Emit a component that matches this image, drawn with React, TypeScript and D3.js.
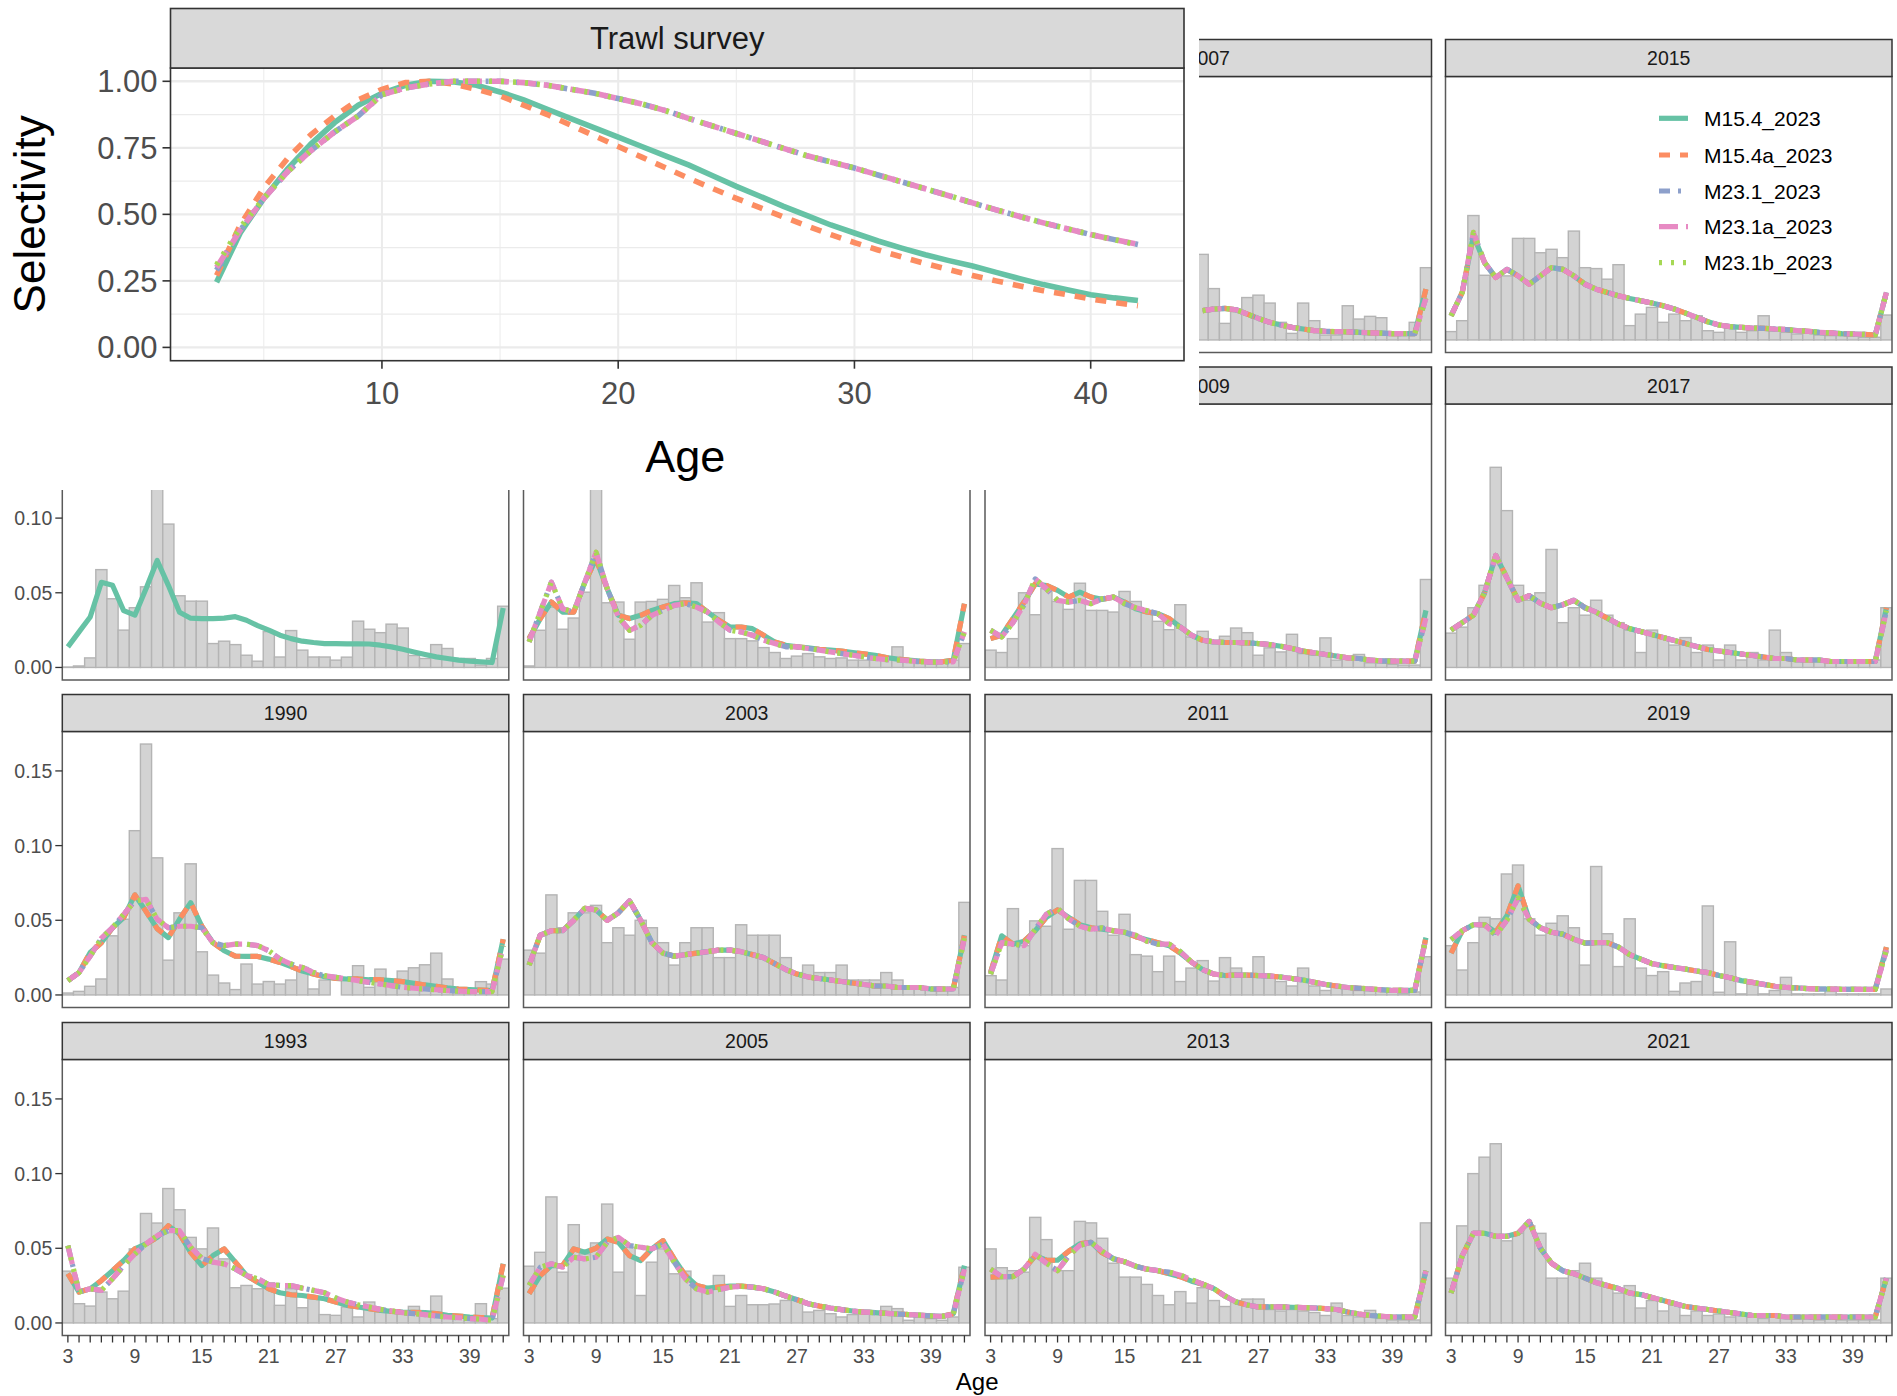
import React from "react";
import * as d3 from "d3";

// ---------------- categories ----------------
const AGES = d3.range(3, 43);
const SERIES = ["M15.4_2023", "M15.4a_2023", "M23.1_2023", "M23.1a_2023", "M23.1b_2023"];
const SERIES_COLORS = ["#66C2A5", "#FC8D62", "#8DA0CB", "#E78AC3", "#A6D854"];
const SERIES_DASH = ["none", "11,10", "11,8,3,8", "19,8", "3,9"];
// which fitted array each model uses (A = M15.4 family, B = M23.1 family)
const SERIES_SRC = ["A", "A", "B", "B", "B"];

// facet order (column-wise, 4 rows)
const YEARS = ["1984", "1987", "1990", "1993", "1999", "2001", "2003", "2005", "2007", "2009", "2011", "2013", "2015", "2017", "2019", "2021"];

// ---------------- selectivity (inset) ----------------
const SEL_M15_4 = [0.245, 0.43, 0.56, 0.67, 0.765, 0.845, 0.91, 0.955, 0.985, 1.0, 0.998, 0.985, 0.96, 0.93, 0.895, 0.86, 0.825, 0.79, 0.755, 0.72, 0.685, 0.645, 0.605, 0.568, 0.53, 0.495, 0.46, 0.43, 0.4, 0.373, 0.348, 0.326, 0.306, 0.282, 0.258, 0.236, 0.217, 0.198, 0.186, 0.176];
const SEL_M15_4a = [0.27, 0.46, 0.6, 0.71, 0.8, 0.87, 0.93, 0.97, 0.995, 1.0, 0.99, 0.97, 0.945, 0.91, 0.875, 0.835, 0.795, 0.755, 0.715, 0.675, 0.635, 0.597, 0.56, 0.525, 0.49, 0.456, 0.424, 0.394, 0.366, 0.34, 0.315, 0.292, 0.27, 0.25, 0.231, 0.213, 0.198, 0.182, 0.169, 0.157];
const SEL_M23_1 = [0.29, 0.44, 0.56, 0.66, 0.74, 0.81, 0.87, 0.95, 0.975, 0.99, 1.0, 1.0, 1.0, 0.995, 0.985, 0.97, 0.955, 0.935, 0.915, 0.89, 0.86, 0.832, 0.804, 0.776, 0.748, 0.72, 0.697, 0.674, 0.648, 0.622, 0.596, 0.57, 0.543, 0.517, 0.492, 0.468, 0.446, 0.424, 0.405, 0.387];
const SEL_M23_1a = [0.3, 0.44, 0.56, 0.66, 0.74, 0.81, 0.87, 0.95, 0.975, 0.99, 1.0, 1.0, 1.0, 0.995, 0.985, 0.97, 0.955, 0.935, 0.915, 0.89, 0.86, 0.832, 0.804, 0.776, 0.748, 0.72, 0.697, 0.674, 0.648, 0.622, 0.596, 0.57, 0.543, 0.517, 0.492, 0.468, 0.446, 0.424, 0.405, 0.387];
const SEL_M23_1b = [0.31, 0.45, 0.56, 0.66, 0.74, 0.81, 0.87, 0.95, 0.975, 0.99, 1.0, 1.0, 1.0, 0.995, 0.985, 0.97, 0.955, 0.935, 0.915, 0.89, 0.86, 0.832, 0.804, 0.776, 0.748, 0.72, 0.697, 0.674, 0.648, 0.622, 0.596, 0.57, 0.543, 0.517, 0.492, 0.468, 0.446, 0.424, 0.405, 0.385];
const SEL_Y_TICKS = [0, 0.25, 0.5, 0.75, 1.0];
const SEL_X_TICKS = [10, 20, 30, 40];

// ---------------- age compositions: observed (bars) and fitted ----------------
const obs_1987 = [0.0003, 0.001, 0.0064, 0.0655, 0.046, 0.025, 0.04, 0.054, 0.13, 0.096, 0.048, 0.0444, 0.0444, 0.016, 0.0176, 0.0153, 0.0082, 0.0042, 0.024, 0.007, 0.0247, 0.0116, 0.007, 0.007, 0.0049, 0.0069, 0.031, 0.0256, 0.0233, 0.029, 0.0264, 0.008, 0.006, 0.0153, 0.0127, 0.006, 0.006, 0.0016, 0.006, 0.041];
const fitA_1987 = [0.0138, 0.0238, 0.0338, 0.057, 0.055, 0.038, 0.035, 0.0527, 0.0716, 0.055, 0.037, 0.033, 0.0327, 0.0327, 0.033, 0.034, 0.0316, 0.028, 0.025, 0.0216, 0.0193, 0.0176, 0.0167, 0.016, 0.016, 0.0158, 0.0158, 0.0157, 0.0149, 0.0138, 0.0122, 0.0104, 0.0087, 0.0071, 0.006, 0.0049, 0.0042, 0.0038, 0.0033, 0.0398];

const obs_1990 = [0.0013, 0.0024, 0.0058, 0.0107, 0.0396, 0.0507, 0.11, 0.168, 0.0918, 0.0233, 0.055, 0.0878, 0.0289, 0.0133, 0.008, 0.0036, 0.0207, 0.0073, 0.009, 0.0073, 0.01, 0.0184, 0.004, 0.01, 0, 0.01, 0.0196, 0.0051, 0.0173, 0.0073, 0.016, 0.0182, 0.0202, 0.028, 0.0107, 0.0029, 0.0029, 0.0089, 0.0073, 0.024];
const fitA_1990 = [0.0096, 0.015, 0.0284, 0.035, 0.045, 0.0518, 0.067, 0.056, 0.0444, 0.0384, 0.0507, 0.0618, 0.046, 0.035, 0.0296, 0.026, 0.0258, 0.0258, 0.024, 0.0218, 0.019, 0.016, 0.014, 0.0122, 0.0111, 0.0107, 0.0107, 0.0102, 0.0102, 0.0096, 0.0089, 0.0078, 0.0067, 0.0058, 0.0047, 0.004, 0.0036, 0.0033, 0.0029, 0.0373];
const fitB_1990 = [0.0096, 0.015, 0.026, 0.038, 0.045, 0.054, 0.063, 0.064, 0.0507, 0.045, 0.046, 0.046, 0.045, 0.035, 0.033, 0.034, 0.034, 0.033, 0.0296, 0.024, 0.0207, 0.0184, 0.015, 0.0129, 0.0118, 0.0107, 0.0096, 0.0084, 0.0073, 0.0062, 0.0051, 0.0045, 0.004, 0.0035, 0.0029, 0.0025, 0.0022, 0.0022, 0.0022, 0.033];

const obs_1993 = [0.0347, 0.0129, 0.0113, 0.0207, 0.0162, 0.0213, 0.0496, 0.0733, 0.0669, 0.09, 0.0758, 0.0573, 0.0496, 0.0636, 0.0429, 0.0236, 0.0251, 0.0229, 0.0269, 0.0118, 0.0229, 0.0102, 0.0162, 0.0056, 0.0051, 0.0107, 0.004, 0.014, 0.0096, 0.0073, 0.0062, 0.0111, 0.0051, 0.018, 0.0062, 0.004, 0.0029, 0.0129, 0.0029, 0.0233];
const fitA_1993 = [0.033, 0.0207, 0.0229, 0.0284, 0.035, 0.0418, 0.0496, 0.0529, 0.0573, 0.0651, 0.0596, 0.0473, 0.0384, 0.0451, 0.0496, 0.0407, 0.0318, 0.0273, 0.0229, 0.0202, 0.0189, 0.0184, 0.0173, 0.0162, 0.014, 0.0118, 0.0107, 0.0096, 0.0084, 0.0078, 0.0073, 0.0071, 0.0069, 0.0062, 0.0051, 0.0046, 0.004, 0.0036, 0.0033, 0.0396];
const fitB_1993 = [0.0518, 0.0207, 0.0229, 0.0218, 0.0296, 0.0384, 0.0462, 0.0529, 0.0584, 0.0618, 0.0618, 0.0507, 0.0433, 0.0407, 0.0396, 0.0362, 0.0318, 0.0296, 0.0256, 0.0251, 0.025, 0.0233, 0.0218, 0.0202, 0.0167, 0.014, 0.0122, 0.0107, 0.0091, 0.008, 0.0069, 0.0062, 0.0056, 0.0047, 0.004, 0.0035, 0.0029, 0.0025, 0.0018, 0.0318];

const obs_2001 = [0.001, 0.0249, 0.0404, 0.0256, 0.0331, 0.0504, 0.14, 0.0433, 0.0438, 0.0189, 0.0438, 0.0442, 0.0456, 0.0549, 0.0467, 0.0567, 0.0304, 0.0367, 0.0193, 0.0193, 0.0178, 0.0133, 0.01, 0.006, 0.0076, 0.0093, 0.0071, 0.006, 0.0064, 0.0049, 0.0049, 0.006, 0.006, 0.0138, 0.0049, 0.0027, 0.0027, 0.0027, 0.0049, 0.016];
const fitA_2001 = [0.0193, 0.0327, 0.0438, 0.0371, 0.0371, 0.0571, 0.0727, 0.0527, 0.0349, 0.0327, 0.0349, 0.0382, 0.0404, 0.0427, 0.0433, 0.0427, 0.0371, 0.0316, 0.0271, 0.0271, 0.026, 0.0216, 0.0171, 0.0149, 0.0138, 0.0131, 0.0122, 0.0116, 0.0109, 0.01, 0.0091, 0.0082, 0.0067, 0.0056, 0.0049, 0.0042, 0.0038, 0.0038, 0.0049, 0.0427];
const fitB_2001 = [0.0171, 0.0371, 0.0571, 0.0393, 0.0371, 0.0571, 0.0771, 0.0527, 0.0338, 0.0249, 0.0282, 0.0349, 0.0382, 0.0416, 0.0427, 0.0404, 0.0371, 0.0304, 0.0249, 0.0238, 0.0216, 0.0182, 0.016, 0.0138, 0.0138, 0.0127, 0.0116, 0.0104, 0.0093, 0.0082, 0.0071, 0.006, 0.0053, 0.005, 0.0045, 0.0038, 0.0036, 0.0036, 0.0038, 0.0238];

const obs_2003 = [0.03, 0.028, 0.067, 0.045, 0.055, 0.055, 0.06, 0.035, 0.045, 0.04, 0.05, 0.045, 0.035, 0.02, 0.035, 0.045, 0.045, 0.025, 0.025, 0.047, 0.04, 0.04, 0.04, 0.025, 0.015, 0.02, 0.015, 0.015, 0.02, 0.01, 0.01, 0.01, 0.015, 0.01, 0.005, 0.005, 0.005, 0.005, 0.005, 0.062];
const fitA_2003 = [0.02, 0.04, 0.043, 0.043, 0.05, 0.058, 0.057, 0.05, 0.055, 0.063, 0.05, 0.035, 0.028, 0.026, 0.027, 0.028, 0.029, 0.03, 0.03, 0.029, 0.027, 0.025, 0.021, 0.017, 0.014, 0.012, 0.011, 0.01, 0.009, 0.008, 0.007, 0.006, 0.006, 0.005, 0.005, 0.005, 0.004, 0.004, 0.004, 0.04];
const fitB_2003 = [0.02, 0.04, 0.043, 0.043, 0.05, 0.058, 0.057, 0.05, 0.055, 0.063, 0.05, 0.035, 0.028, 0.026, 0.027, 0.028, 0.029, 0.03, 0.03, 0.029, 0.027, 0.025, 0.021, 0.017, 0.014, 0.012, 0.011, 0.01, 0.009, 0.008, 0.007, 0.006, 0.006, 0.005, 0.005, 0.005, 0.004, 0.004, 0.004, 0.038];

const obs_2005 = [0.038, 0.0473, 0.0844, 0.034, 0.0658, 0.0462, 0.0536, 0.0796, 0.034, 0.0507, 0.0184, 0.0407, 0.0496, 0.0329, 0.0347, 0.024, 0.0218, 0.0318, 0.0111, 0.0184, 0.0122, 0.0122, 0.0127, 0.0151, 0.0162, 0.0073, 0.0084, 0.0062, 0.004, 0.0056, 0.0084, 0.0073, 0.0111, 0.0096, 0.0018, 0.004, 0.0029, 0.0018, 0.004, 0.0373];
const fitA_2005 = [0.0196, 0.0318, 0.0384, 0.0384, 0.0496, 0.0473, 0.05, 0.0562, 0.054, 0.0451, 0.0418, 0.0496, 0.0551, 0.0429, 0.0318, 0.0251, 0.0233, 0.024, 0.0247, 0.0247, 0.024, 0.0229, 0.0207, 0.018, 0.0156, 0.0129, 0.0113, 0.01, 0.0089, 0.008, 0.0073, 0.0069, 0.0064, 0.006, 0.0056, 0.0052, 0.0047, 0.0044, 0.0062, 0.0384];
const fitB_2005 = [0.0251, 0.0373, 0.0396, 0.0373, 0.044, 0.0429, 0.044, 0.054, 0.0573, 0.0518, 0.0507, 0.0496, 0.0529, 0.0407, 0.0296, 0.0229, 0.0207, 0.0224, 0.024, 0.0245, 0.024, 0.0229, 0.0207, 0.018, 0.0156, 0.0129, 0.0113, 0.01, 0.0089, 0.008, 0.0073, 0.0069, 0.0064, 0.006, 0.0056, 0.0052, 0.0047, 0.0044, 0.0058, 0.036];

// 2007: only ages 22-42 are visible beside the inset
const obs_2007 = [0.0573, 0.0344, 0.0111, 0.0189, 0.0284, 0.03, 0.0247, 0.0118, 0.0044, 0.0247, 0.0129, 0.0033, 0.0033, 0.0229, 0.014, 0.0158, 0.0149, 0.0033, 0.0033, 0.0118, 0.0484];
const fitA_2007 = [0.0196, 0.0207, 0.0211, 0.0202, 0.0173, 0.0144, 0.0118, 0.01, 0.0084, 0.0073, 0.0062, 0.0058, 0.0056, 0.0054, 0.0051, 0.0048, 0.0046, 0.0042, 0.0042, 0.0042, 0.034];
const fitB_2007 = [0.0196, 0.0207, 0.0211, 0.0202, 0.0173, 0.0144, 0.0118, 0.01, 0.0084, 0.0073, 0.0062, 0.0058, 0.0056, 0.0054, 0.0051, 0.0048, 0.0046, 0.0042, 0.0042, 0.0042, 0.028];

const obs_2009 = [0.0116, 0.01, 0.0193, 0.05, 0.0353, 0.0527, 0.0442, 0.0389, 0.0564, 0.0382, 0.0382, 0.0371, 0.0509, 0.0442, 0.0382, 0.0309, 0.0253, 0.042, 0.0204, 0.0242, 0.0171, 0.0209, 0.0264, 0.0233, 0.0082, 0.0131, 0.0104, 0.0222, 0.0093, 0.0082, 0.0198, 0.0049, 0.0071, 0.0087, 0.0031, 0.0031, 0.002, 0.0016, 0.0016, 0.0589];
const fitA_2009 = [0.0193, 0.0216, 0.0327, 0.0438, 0.056, 0.0549, 0.0516, 0.0471, 0.0504, 0.0471, 0.0456, 0.0471, 0.0438, 0.0393, 0.0371, 0.036, 0.0327, 0.0271, 0.0216, 0.0182, 0.0171, 0.0167, 0.0167, 0.0165, 0.016, 0.0153, 0.0142, 0.0127, 0.0109, 0.0098, 0.0087, 0.0076, 0.0064, 0.006, 0.0049, 0.0044, 0.0042, 0.0042, 0.0042, 0.0382];
const fitB_2009 = [0.0249, 0.0204, 0.03, 0.042, 0.0593, 0.0527, 0.0449, 0.0438, 0.0449, 0.0427, 0.046, 0.0471, 0.0427, 0.04, 0.038, 0.036, 0.0293, 0.0271, 0.0216, 0.0182, 0.0171, 0.0167, 0.0167, 0.0165, 0.016, 0.0153, 0.0142, 0.0127, 0.0109, 0.0098, 0.0087, 0.0076, 0.0064, 0.006, 0.0049, 0.0044, 0.0042, 0.0042, 0.0042, 0.033];

const obs_2011 = [0.0129, 0.01, 0.0578, 0.033, 0.0496, 0.046, 0.098, 0.044, 0.0767, 0.0767, 0.056, 0.04, 0.054, 0.027, 0.026, 0.0156, 0.026, 0.009, 0.018, 0.023, 0.0093, 0.025, 0.018, 0.012, 0.0256, 0.0118, 0.009, 0.006, 0.018, 0.006, 0.003, 0.006, 0.005, 0.003, 0.003, 0.003, 0.002, 0.001, 0.002, 0.0256];
const fitA_2011 = [0.015, 0.0396, 0.034, 0.036, 0.043, 0.052, 0.057, 0.052, 0.047, 0.045, 0.044, 0.043, 0.042, 0.039, 0.037, 0.035, 0.033, 0.028, 0.022, 0.017, 0.014, 0.013, 0.0133, 0.0133, 0.013, 0.0127, 0.012, 0.011, 0.01, 0.0085, 0.007, 0.006, 0.005, 0.0045, 0.004, 0.0035, 0.003, 0.003, 0.003, 0.0384];
const fitB_2011 = [0.014, 0.035, 0.034, 0.033, 0.044, 0.054, 0.058, 0.051, 0.046, 0.044, 0.045, 0.043, 0.042, 0.04, 0.036, 0.034, 0.034, 0.029, 0.022, 0.017, 0.014, 0.013, 0.0133, 0.0133, 0.013, 0.0127, 0.012, 0.011, 0.01, 0.0085, 0.007, 0.006, 0.005, 0.0045, 0.004, 0.0035, 0.003, 0.003, 0.003, 0.038];

const obs_2013 = [0.0496, 0.037, 0.035, 0.034, 0.0707, 0.0558, 0.035, 0.035, 0.068, 0.067, 0.0567, 0.04, 0.0307, 0.0307, 0.0258, 0.0184, 0.0122, 0.021, 0.0133, 0.0236, 0.015, 0.011, 0.015, 0.016, 0.016, 0.009, 0.008, 0.009, 0.008, 0.007, 0.005, 0.0133, 0.005, 0.004, 0.0084, 0.003, 0.002, 0.002, 0.002, 0.067];
const fitA_2013 = [0.0307, 0.031, 0.031, 0.036, 0.045, 0.042, 0.042, 0.048, 0.053, 0.054, 0.047, 0.043, 0.041, 0.038, 0.036, 0.035, 0.033, 0.031, 0.028, 0.026, 0.023, 0.018, 0.014, 0.012, 0.0107, 0.0107, 0.0107, 0.0105, 0.0103, 0.01, 0.0096, 0.009, 0.0073, 0.006, 0.005, 0.0045, 0.004, 0.004, 0.004, 0.035];
const fitB_2013 = [0.036, 0.031, 0.031, 0.036, 0.046, 0.04, 0.035, 0.045, 0.052, 0.054, 0.048, 0.043, 0.041, 0.038, 0.036, 0.035, 0.034, 0.032, 0.029, 0.026, 0.023, 0.018, 0.014, 0.012, 0.0107, 0.0107, 0.0107, 0.0105, 0.0103, 0.01, 0.0096, 0.009, 0.0073, 0.006, 0.005, 0.0045, 0.004, 0.004, 0.004, 0.035];

const obs_2015 = [0.0056, 0.0129, 0.0833, 0.0433, 0.0433, 0.0429, 0.068, 0.068, 0.0584, 0.0607, 0.0551, 0.0729, 0.0484, 0.0478, 0.0407, 0.0504, 0.0096, 0.0173, 0.0218, 0.0118, 0.0173, 0.0129, 0.0162, 0.0062, 0.0051, 0.0096, 0.0051, 0.0062, 0.0162, 0.0062, 0.0051, 0.004, 0.0047, 0.0033, 0.0029, 0.0029, 0.0029, 0.0018, 0.0018, 0.0167];
const fitA_2015 = [0.0162, 0.0318, 0.07, 0.0518, 0.0418, 0.0473, 0.0429, 0.0373, 0.0429, 0.0484, 0.0473, 0.0429, 0.0373, 0.034, 0.0318, 0.0296, 0.0278, 0.0262, 0.0247, 0.0229, 0.0207, 0.018, 0.0151, 0.0122, 0.01, 0.0089, 0.0084, 0.008, 0.0078, 0.0073, 0.007, 0.0062, 0.0058, 0.0051, 0.0047, 0.0042, 0.004, 0.0037, 0.0033, 0.0318];
const fitB_2015 = [0.0162, 0.0318, 0.072, 0.0518, 0.0418, 0.0473, 0.0429, 0.0373, 0.0429, 0.0484, 0.0473, 0.0429, 0.0373, 0.034, 0.0318, 0.0296, 0.0278, 0.0262, 0.0247, 0.0229, 0.0207, 0.018, 0.0151, 0.0122, 0.01, 0.0089, 0.0084, 0.008, 0.0078, 0.0073, 0.007, 0.0062, 0.0058, 0.0051, 0.0047, 0.0042, 0.004, 0.0037, 0.0033, 0.0318];

const obs_2017 = [0.023, 0.027, 0.04, 0.055, 0.134, 0.105, 0.055, 0.045, 0.05, 0.079, 0.03, 0.04, 0.035, 0.045, 0.035, 0.03, 0.025, 0.01, 0.025, 0.02, 0.015, 0.02, 0.01, 0.015, 0.005, 0.015, 0.005, 0.01, 0.005, 0.025, 0.01, 0.005, 0.005, 0.005, 0.005, 0.003, 0.003, 0.003, 0.005, 0.04];
const fitA_2017 = [0.025, 0.03, 0.035, 0.05, 0.075, 0.06, 0.045, 0.048, 0.043, 0.04, 0.042, 0.045, 0.04, 0.037, 0.033, 0.029, 0.026, 0.024, 0.022, 0.02, 0.018, 0.016, 0.014, 0.012, 0.011, 0.01, 0.009, 0.008, 0.007, 0.006, 0.006, 0.005, 0.005, 0.005, 0.004, 0.004, 0.004, 0.004, 0.004, 0.04];
const fitB_2017 = [0.025, 0.03, 0.035, 0.05, 0.075, 0.06, 0.045, 0.048, 0.043, 0.04, 0.042, 0.045, 0.04, 0.037, 0.033, 0.029, 0.026, 0.024, 0.022, 0.02, 0.018, 0.016, 0.014, 0.012, 0.011, 0.01, 0.009, 0.008, 0.007, 0.006, 0.006, 0.005, 0.005, 0.005, 0.004, 0.004, 0.004, 0.004, 0.004, 0.038];

const obs_2019 = [0.033, 0.0167, 0.035, 0.052, 0.051, 0.081, 0.087, 0.051, 0.04, 0.048, 0.053, 0.045, 0.02, 0.086, 0.041, 0.019, 0.051, 0.018, 0.013, 0.0156, 0.0024, 0.008, 0.009, 0.0596, 0.0018, 0.0356, 0.0007, 0.0084, 0.0007, 0.003, 0.0118, 0.0007, 0.0007, 0.0007, 0.003, 0.0007, 0.0007, 0.0007, 0.0007, 0.004];
const fitA_2019 = [0.028, 0.043, 0.047, 0.047, 0.042, 0.053, 0.073, 0.0507, 0.045, 0.042, 0.0407, 0.0373, 0.0347, 0.035, 0.035, 0.032, 0.027, 0.024, 0.021, 0.0196, 0.0184, 0.0173, 0.016, 0.015, 0.013, 0.0115, 0.0096, 0.0084, 0.0071, 0.0058, 0.0051, 0.0047, 0.0042, 0.004, 0.004, 0.0038, 0.0038, 0.0037, 0.0037, 0.032];
const fitB_2019 = [0.037, 0.043, 0.047, 0.047, 0.04, 0.05, 0.065, 0.0507, 0.045, 0.042, 0.0407, 0.0373, 0.0347, 0.035, 0.035, 0.032, 0.027, 0.024, 0.021, 0.0196, 0.0184, 0.0173, 0.016, 0.015, 0.013, 0.0115, 0.0096, 0.0084, 0.0071, 0.0058, 0.0051, 0.0047, 0.0042, 0.004, 0.004, 0.0038, 0.0038, 0.0037, 0.0037, 0.03];

const obs_2021 = [0.03, 0.065, 0.1, 0.111, 0.12, 0.055, 0.06, 0.065, 0.06, 0.03, 0.03, 0.035, 0.04, 0.03, 0.025, 0.02, 0.025, 0.01, 0.015, 0.008, 0.012, 0.005, 0.008, 0.005, 0.006, 0.004, 0.005, 0.004, 0.003, 0.004, 0.003, 0.003, 0.003, 0.002, 0.003, 0.002, 0.002, 0.002, 0.002, 0.03];
const fitA_2021 = [0.02, 0.045, 0.06, 0.06, 0.058, 0.058, 0.06, 0.068, 0.05, 0.04, 0.035, 0.033, 0.03, 0.027, 0.025, 0.023, 0.02, 0.019, 0.017, 0.015, 0.013, 0.011, 0.01, 0.009, 0.008, 0.007, 0.006, 0.005, 0.005, 0.005, 0.004, 0.004, 0.004, 0.004, 0.004, 0.004, 0.004, 0.004, 0.004, 0.03];
const fitB_2021 = [0.02, 0.045, 0.06, 0.06, 0.058, 0.058, 0.06, 0.068, 0.05, 0.04, 0.035, 0.033, 0.03, 0.027, 0.025, 0.023, 0.02, 0.019, 0.017, 0.015, 0.013, 0.011, 0.01, 0.009, 0.008, 0.007, 0.006, 0.005, 0.005, 0.005, 0.004, 0.004, 0.004, 0.004, 0.004, 0.004, 0.004, 0.004, 0.004, 0.03];

const PANEL_DATA: Record<string, { start: number; obs: number[]; fitA: number[]; fitB: number[] | null }> = {
  "1987": { start: 3, obs: obs_1987, fitA: fitA_1987, fitB: null },
  "1990": { start: 3, obs: obs_1990, fitA: fitA_1990, fitB: fitB_1990 },
  "1993": { start: 3, obs: obs_1993, fitA: fitA_1993, fitB: fitB_1993 },
  "2001": { start: 3, obs: obs_2001, fitA: fitA_2001, fitB: fitB_2001 },
  "2003": { start: 3, obs: obs_2003, fitA: fitA_2003, fitB: fitB_2003 },
  "2005": { start: 3, obs: obs_2005, fitA: fitA_2005, fitB: fitB_2005 },
  "2007": { start: 22, obs: obs_2007, fitA: fitA_2007, fitB: fitB_2007 },
  "2009": { start: 3, obs: obs_2009, fitA: fitA_2009, fitB: fitB_2009 },
  "2011": { start: 3, obs: obs_2011, fitA: fitA_2011, fitB: fitB_2011 },
  "2013": { start: 3, obs: obs_2013, fitA: fitA_2013, fitB: fitB_2013 },
  "2015": { start: 3, obs: obs_2015, fitA: fitA_2015, fitB: fitB_2015 },
  "2017": { start: 3, obs: obs_2017, fitA: fitA_2017, fitB: fitB_2017 },
  "2019": { start: 3, obs: obs_2019, fitA: fitA_2019, fitB: fitB_2019 },
  "2021": { start: 3, obs: obs_2021, fitA: fitA_2021, fitB: fitB_2021 },
};

const Y_TICKS = [0, 0.05, 0.1, 0.15];
const X_LABEL_TICKS = [3, 9, 15, 21, 27, 33, 39];

// ---------------- layout ----------------
const W = 1897;
const H = 1396;
const COL_X = [62.3, 523.5, 985, 1445.5];
const PANEL_W = 446.5;
const ROW_Y = [39.5, 367, 694.5, 1022.5];
const STRIP_H = 37;
const PANEL_H = 276;
const FONT = "'Liberation Sans', Arial, Helvetica, sans-serif";
const LW = 5.2;

const allVals = Object.values(PANEL_DATA).flatMap((d) => [...d.obs, ...d.fitA, ...(d.fitB || [])]);
const yMax = d3.max(allVals) as number;
const Y_DOMAIN: [number, number] = [-0.05 * yMax, yMax * 1.05];

function Panel({ year, idx }: { year: string; idx: number }) {
  const col = Math.floor(idx / 4);
  const row = idx % 4;
  const d = PANEL_DATA[year];
  if (!d) return null;
  const left = COL_X[col];
  const top = ROW_Y[row] + STRIP_H;
  const x = d3.scaleLinear().domain([2.5, 42.5]).range([left, left + PANEL_W]);
  const y = d3.scaleLinear().domain(Y_DOMAIN).range([top + PANEL_H, top]);
  const ages = d.obs.map((_, i) => d.start + i);
  const line = d3
    .line<number>()
    .x((_, i) => x(d.start + i))
    .y((v) => y(v));
  const clipId = `clip-${year}`;
  return (
    <g>
      <defs>
        <clipPath id={clipId}>
          <rect x={left} y={top} width={PANEL_W} height={PANEL_H} />
        </clipPath>
      </defs>
      <rect x={left} y={top} width={PANEL_W} height={PANEL_H} fill="#fff" />
      <g clipPath={`url(#${clipId})`}>
        {d.obs.map((v, i) => (
          <rect
            key={i}
            x={x(ages[i] - 0.5)}
            width={x(ages[i] + 0.5) - x(ages[i] - 0.5)}
            y={y(v)}
            height={y(0) - y(v)}
            fill="#D3D3D3"
            stroke="#B4B4B4"
            strokeWidth={1.4}
          />
        ))}
        {SERIES.map((s, si) => {
          const arr = SERIES_SRC[si] === "A" ? d.fitA : d.fitB;
          if (!arr) return null;
          if (year === "1987" && si > 0) return null;
          return (
            <path
              key={s}
              d={line(arr) || ""}
              fill="none"
              stroke={SERIES_COLORS[si]}
              strokeWidth={LW}
              strokeDasharray={SERIES_DASH[si]}
              strokeLinejoin="round"
            />
          );
        })}
      </g>
      <rect x={left} y={top} width={PANEL_W} height={PANEL_H} fill="none" stroke="#5a5a5a" strokeWidth={1.5} />
      <rect x={left} y={ROW_Y[row]} width={PANEL_W} height={STRIP_H} fill="#D9D9D9" stroke="#333" strokeWidth={1.5} />
      <text x={left + PANEL_W / 2} y={ROW_Y[row] + STRIP_H / 2 + 7} textAnchor="middle" fontSize={19.5} fill="#1A1A1A" fontFamily={FONT}>
        {year}
      </text>
      {col === 0 &&
        Y_TICKS.map((t) => (
          <g key={t}>
            <line x1={left - 7} x2={left} y1={y(t)} y2={y(t)} stroke="#333" strokeWidth={1.3} />
            <text x={left - 10} y={y(t) + 7} textAnchor="end" fontSize={19.5} fill="#4D4D4D" fontFamily={FONT}>
              {d3.format(".2f")(t)}
            </text>
          </g>
        ))}
      {row === 3 && (
        <g>
          {AGES.map((a) => (
            <line key={a} x1={x(a)} x2={x(a)} y1={top + PANEL_H} y2={top + PANEL_H + 7} stroke="#333" strokeWidth={1.3} />
          ))}
          {X_LABEL_TICKS.map((a) => (
            <text key={a} x={x(a)} y={top + PANEL_H + 27} textAnchor="middle" fontSize={19.5} fill="#4D4D4D" fontFamily={FONT}>
              {a}
            </text>
          ))}
        </g>
      )}
    </g>
  );
}

function Legend() {
  const x0 = 1659;
  const ys = [118.3, 155, 191, 226.7, 262.7];
  return (
    <g>
      {SERIES.map((s, i) => (
        <g key={s}>
          <line x1={x0} x2={x0 + 29} y1={ys[i]} y2={ys[i]} stroke={SERIES_COLORS[i]} strokeWidth={LW} strokeDasharray={SERIES_DASH[i]} />
          <text x={1704} y={ys[i] + 7.5} fontSize={21} fill="#000" fontFamily={FONT}>
            {s}
          </text>
        </g>
      ))}
    </g>
  );
}

function Inset() {
  const L = 170.5, R = 1184, T = 68, B = 360.7, ST = 8.5;
  const x = d3.scaleLinear().domain([1.05, 43.95]).range([L, R]);
  const y = d3.scaleLinear().domain([-0.05, 1.05]).range([B, T]);
  const selSeries = [SEL_M15_4, SEL_M15_4a, SEL_M23_1, SEL_M23_1a, SEL_M23_1b];
  const line = d3
    .line<number>()
    .x((_, i) => x(AGES[i]))
    .y((v) => y(v));
  const minorX = [5, 15, 25, 35];
  const minorY = [0.125, 0.375, 0.625, 0.875];
  return (
    <g>
      <rect x={0} y={0} width={1199} height={490} fill="#fff" />
      <rect x={L} y={T} width={R - L} height={B - T} fill="#fff" />
      {minorX.map((t) => (
        <line key={"mx" + t} x1={x(t)} x2={x(t)} y1={T} y2={B} stroke="#EBEBEB" strokeWidth={1} />
      ))}
      {minorY.map((t) => (
        <line key={"my" + t} x1={L} x2={R} y1={y(t)} y2={y(t)} stroke="#EBEBEB" strokeWidth={1.2} />
      ))}
      {SEL_X_TICKS.map((t) => (
        <line key={"gx" + t} x1={x(t)} x2={x(t)} y1={T} y2={B} stroke="#EBEBEB" strokeWidth={2} />
      ))}
      {SEL_Y_TICKS.map((t) => (
        <line key={"gy" + t} x1={L} x2={R} y1={y(t)} y2={y(t)} stroke="#EBEBEB" strokeWidth={2.4} />
      ))}
      {selSeries.map((arr, si) => (
        <path
          key={si}
          d={line(arr) || ""}
          fill="none"
          stroke={SERIES_COLORS[si]}
          strokeWidth={5.6}
          strokeDasharray={SERIES_DASH[si]}
        />
      ))}
      <rect x={L} y={T} width={R - L} height={B - T} fill="none" stroke="#333" strokeWidth={1.6} />
      <rect x={L} y={ST} width={R - L} height={T - ST} fill="#D9D9D9" stroke="#333" strokeWidth={1.6} />
      <text x={(L + R) / 2} y={(ST + T) / 2 + 11} textAnchor="middle" fontSize={31} fill="#1A1A1A" fontFamily={FONT}>
        Trawl survey
      </text>
      {SEL_Y_TICKS.map((t) => (
        <g key={"ty" + t}>
          <line x1={L - 8} x2={L} y1={y(t)} y2={y(t)} stroke="#333" strokeWidth={1.6} />
          <text x={L - 13} y={y(t) + 11} textAnchor="end" fontSize={31} fill="#4D4D4D" fontFamily={FONT}>
            {d3.format(".2f")(t)}
          </text>
        </g>
      ))}
      {SEL_X_TICKS.map((t) => (
        <g key={"tx" + t}>
          <line x1={x(t)} x2={x(t)} y1={B} y2={B + 8} stroke="#333" strokeWidth={1.6} />
          <text x={x(t)} y={B + 43} textAnchor="middle" fontSize={31} fill="#4D4D4D" fontFamily={FONT}>
            {t}
          </text>
        </g>
      ))}
      <text transform={`translate(45,${(T + B) / 2}) rotate(-90)`} textAnchor="middle" fontSize={44} fill="#000" fontFamily={FONT}>
        Selectivity
      </text>
      <text x={(L + R) / 2 + 8} y={472} textAnchor="middle" fontSize={45} fill="#000" fontFamily={FONT}>
        Age
      </text>
    </g>
  );
}

export default function App() {
  return (
    <svg width={W} height={H} style={{ position: "absolute", left: 0, top: 0, background: "#fff" }} xmlns="http://www.w3.org/2000/svg">
      <rect x={0} y={0} width={W} height={H} fill="#fff" />
      {YEARS.map((yr, i) => (
        <Panel key={yr} year={yr} idx={i} />
      ))}
      <Legend />
      <text x={(COL_X[0] + COL_X[3] + PANEL_W) / 2} y={1390} textAnchor="middle" fontSize={24} fill="#000" fontFamily={FONT}>
        Age
      </text>
      <Inset />
    </svg>
  );
}
